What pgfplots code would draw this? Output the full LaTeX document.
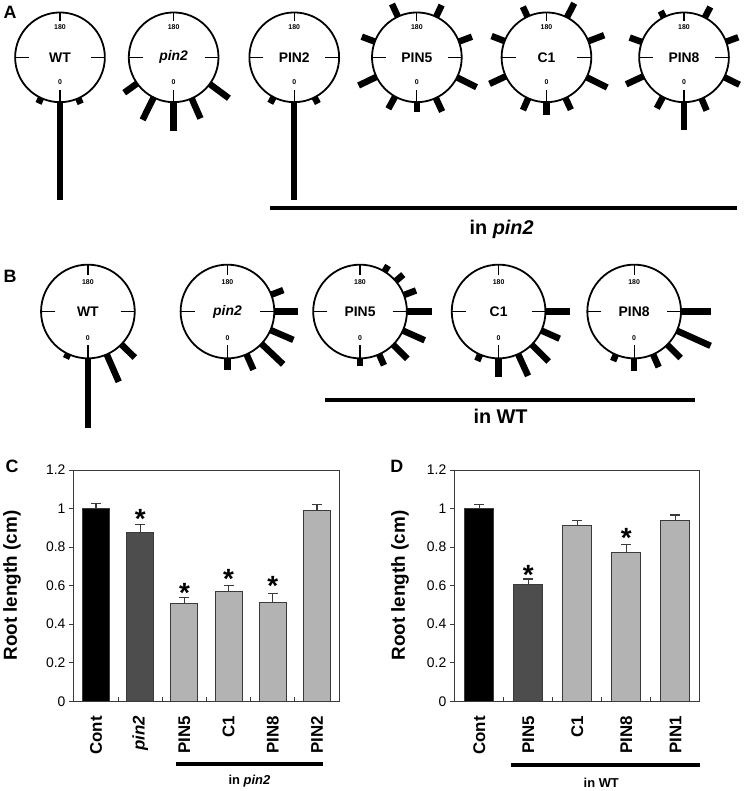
\documentclass[border=0pt]{standalone}
\usepackage{pgfplots}
\pgfplotsset{compat=1.18}
\usepgfplotslibrary{polar}
\usepackage{fontspec}
\setmainfont{Liberation Sans}

\definecolor{darkbar}{HTML}{4D4D4D}
\definecolor{lightbar}{HTML}{B3B3B3}
\definecolor{edge}{HTML}{3A3A3A}

\newcommand\fs[1]{\fontsize{#1}{#1}\selectfont}

\pgfplotsset{
  rose/.style={
    scale only axis, width=#1, height=#1,
    xmin=0, xmax=360,
    anchor=center, clip=false, no markers,
    xtick=\empty, ytick=\empty, grid=none,
    axis line style={line width=1.8bp},
    y axis line style={draw=none},
  },
  rosebar/.style={black, line width=6.5bp, line cap=butt, mark=none},
  rosetick/.style={black, line width=1.2bp, mark=none},
  roseA/.style={rose=90bp, ymin=0, ymax=45},
  roseB/.style={rose=94bp, ymin=0, ymax=47},
  rootaxis/.style={
    scale only axis, height=232bp, anchor=south west, clip=false,
    ymin=0, ymax=1.2,
    ytick={0,0.2,0.4,0.6,0.8,1,1.2},
    /pgf/number format/assume math mode=true,
    yticklabel style={font=\fs{14}},
    xticklabel style={font=\bfseries\fs{17}, rotate=90, anchor=east,
      inner sep=0pt, outer xsep=10bp},
    tick align=outside, xtick pos=left, ytick pos=left,
    major tick length=5bp, minor tick length=4bp,
    tick style={line width=1bp, edge},
    major x tick style={draw=none},
    minor x tick style={yshift=4bp},
    axis line style={line width=1bp, edge},
    ylabel={Root length (cm)},
    ylabel style={font=\bfseries\fs{19}, anchor=center},
  },
  rootbar/.style={ybar, bar shift=0pt, bar width=#1, draw=edge, line width=1bp,
    error bars/y dir=plus, error bars/y explicit,
    error bars/error bar style={line width=1.2bp, edge},
    error bars/error mark options={rotate=90, mark size=5bp, line width=1.2bp, edge}},
}

% one radial bar: angle, outer radius
\newcommand\ba[2]{\addplot[rosebar] coordinates {(#1,45) (#1,#2)};}
\newcommand\bb[2]{\addplot[rosebar] coordinates {(#1,47) (#1,#2)};}

\newcommand\marksA[1]{%
  \addplot[rosetick] coordinates {(0,31) (0,45)};
  \addplot[rosetick] coordinates {(180,31) (180,45)};
  \addplot[rosetick] coordinates {(90,36) (90,45)};
  \addplot[rosetick] coordinates {(270,33) (270,45)};
  \node[font=\bfseries\fs{7}] at (axis cs:90,30) {180};
  \node[font=\bfseries\fs{7}] at (axis cs:270,25) {0};
  \node[font=\bfseries\fs{14}] at (axis cs:0,0) {#1};
}
\newcommand\marksB[1]{%
  \addplot[rosetick] coordinates {(0,33) (0,47)};
  \addplot[rosetick] coordinates {(180,33) (180,47)};
  \addplot[rosetick] coordinates {(90,37) (90,47)};
  \addplot[rosetick] coordinates {(270,34) (270,47)};
  \node[font=\bfseries\fs{7}] at (axis cs:90,29) {180};
  \node[font=\bfseries\fs{7}] at (axis cs:270,27) {0};
  \node[font=\bfseries\fs{14}] at (axis cs:0,0) {#1};
}

\begin{document}
\begin{tikzpicture}
\path (0bp,0bp) rectangle (747bp,-791bp);

% ---------------- A ----------------
\node[font=\bfseries\fs{18}] at (10bp,-12bp) {A};

\begin{polaraxis}[roseA, at={(60bp,-57bp)}]
  \marksA{WT}
  \ba{245}{51} \ba{270}{143} \ba{294}{51}
\end{polaraxis}

\begin{polaraxis}[roseA, at={(174bp,-57bp)}]
  \marksA{\textit{pin2}}
  \ba{215.6}{61} \ba{243.6}{70} \ba{270}{74} \ba{293.7}{67} \ba{323.5}{69}
\end{polaraxis}

\begin{polaraxis}[roseA, at={(295bp,-57bp)}]
  \marksA{PIN2}
  \ba{242.5}{52} \ba{270}{143} \ba{297}{52}
\end{polaraxis}

\begin{polaraxis}[roseA, at={(418bp,-57bp)}]
  \marksA{PIN5}
  \ba{20.5}{59} \ba{64.6}{58} \ba{115}{59} \ba{159.5}{59} \ba{205.8}{65}
  \ba{241}{59} \ba{270}{55} \ba{295}{60} \ba{333.4}{67}
\end{polaraxis}

\begin{polaraxis}[roseA, at={(548bp,-57bp)}]
  \marksA{C1}
  \ba{21}{62} \ba{62.8}{61} \ba{115}{56} \ba{158.8}{59} \ba{205}{63}
  \ba{246}{58} \ba{270}{58} \ba{295}{58} \ba{333.6}{68}
\end{polaraxis}

\begin{polaraxis}[roseA, at={(686bp,-57bp)}]
  \marksA{PIN8}
  \ba{20.3}{58} \ba{62.4}{57} \ba{116.7}{52} \ba{160}{58} \ba{205}{64}
  \ba{241.9}{58} \ba{270}{73} \ba{293}{58} \ba{333.7}{62}
\end{polaraxis}

\draw[line width=3.5bp] (271bp,-208bp) -- (739bp,-208bp);
\node[font=\bfseries\fs{20}] at (503bp,-230bp) {in \textit{pin2}};

% ---------------- B ----------------
\node[font=\bfseries\fs{18}] at (10bp,-277bp) {B};

\begin{polaraxis}[roseB, at={(88bp,-312bp)}]
  \marksB{WT}
  \bb{245}{52} \bb{270}{117} \bb{293.7}{77} \bb{315.5}{66}
\end{polaraxis}

\begin{polaraxis}[roseB, at={(228bp,-312bp)}]
  \marksB{\textit{pin2}}
  \bb{21}{60} \bb{0}{71} \bb{336.7}{72} \bb{316.5}{77} \bb{294}{64} \bb{270}{59}
\end{polaraxis}

\begin{polaraxis}[roseB, at={(361bp,-312bp)}]
  \marksB{PIN5}
  \bb{58.6}{54} \bb{40.5}{57} \bb{20.6}{60} \bb{0}{72} \bb{336}{71}
  \bb{315}{67} \bb{294}{59} \bb{270}{55}
\end{polaraxis}

\begin{polaraxis}[roseB, at={(500bp,-312bp)}]
  \marksB{C1}
  \bb{0}{72} \bb{336}{67} \bb{315}{71} \bb{294.6}{71} \bb{270}{66} \bb{246.7}{54}
\end{polaraxis}

\begin{polaraxis}[roseB, at={(636bp,-312bp)}]
  \marksB{PIN8}
  \bb{0}{77} \bb{335.8}{84} \bb{315}{66} \bb{293.8}{61} \bb{270}{60} \bb{247}{54}
\end{polaraxis}

\draw[line width=3.5bp] (326bp,-401bp) -- (697bp,-401bp);
\node[font=\bfseries\fs{20}] at (502bp,-417bp) {in WT};

% ---------------- C ----------------
\node[font=\bfseries\fs{18}] at (12bp,-467bp) {C};
\begin{axis}[rootaxis, at={(74bp,-703bp)}, width=266bp,
  xmin=-0.5, xmax=5.5,
  xtick={0,1,2,3,4,5},
  xticklabels={Cont,\textit{pin2},PIN5,C1,PIN8,PIN2},
  minor xtick={0.5,1.5,2.5,3.5,4.5},
  ylabel style={at={([xshift=-62bp]axis description cs:0,0.5)}},
]
\addplot[rootbar=27bp, fill=black] coordinates {(0,1.0) +- (0,0.025)};
\addplot[rootbar=27bp, fill=darkbar] coordinates {(1,0.878) +- (0,0.038)};
\addplot[rootbar=27bp, fill=lightbar] coordinates {
  (2,0.506) +- (0,0.031)
  (3,0.568) +- (0,0.031)
  (4,0.515) +- (0,0.045)
  (5,0.990) +- (0,0.030)
};
\node[font=\bfseries\fs{28}, anchor=base, inner sep=0pt] at (axis cs:1,0.894) {*};
\node[font=\bfseries\fs{28}, anchor=base, inner sep=0pt] at (axis cs:2,0.514) {*};
\node[font=\bfseries\fs{28}, anchor=base, inner sep=0pt] at (axis cs:3,0.583) {*};
\node[font=\bfseries\fs{28}, anchor=base, inner sep=0pt] at (axis cs:4,0.549) {*};
\end{axis}
\draw[line width=3.5bp] (176bp,-766bp) -- (324bp,-766bp);
\node[font=\bfseries\fs{13}] at (250bp,-783bp) {in \textit{pin2}};

% ---------------- D ----------------
\node[font=\bfseries\fs{18}] at (398bp,-467bp) {D};
\begin{axis}[rootaxis, at={(456bp,-703bp)}, width=246bp,
  xmin=-0.5, xmax=4.5,
  xtick={0,1,2,3,4},
  xticklabels={Cont,PIN5,C1,PIN8,PIN1},
  minor xtick={0.5,1.5,2.5,3.5},
  ylabel style={at={([xshift=-55bp]axis description cs:0,0.5)}},
]
\addplot[rootbar=29bp, fill=black] coordinates {(0,1.0) +- (0,0.022)};
\addplot[rootbar=29bp, fill=darkbar] coordinates {(1,0.606) +- (0,0.028)};
\addplot[rootbar=29bp, fill=lightbar] coordinates {
  (2,0.910) +- (0,0.030)
  (3,0.774) +- (0,0.041)
  (4,0.938) +- (0,0.029)
};
\node[font=\bfseries\fs{28}, anchor=base, inner sep=0pt] at (axis cs:1,0.604) {*};
\node[font=\bfseries\fs{28}, anchor=base, inner sep=0pt] at (axis cs:3,0.799) {*};
\end{axis}
\draw[line width=4bp] (512bp,-767bp) -- (702bp,-767bp);
\node[font=\bfseries\fs{13}] at (603bp,-785bp) {in WT};
\end{tikzpicture}
\end{document}
